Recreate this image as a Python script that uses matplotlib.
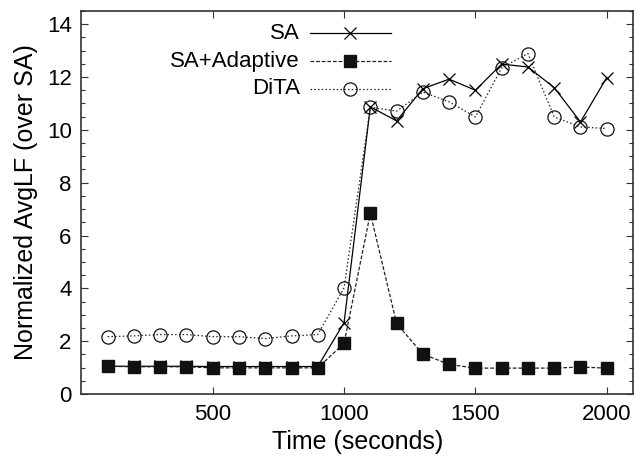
import matplotlib
matplotlib.use('Agg')
from matplotlib import pyplot as plt
from matplotlib.lines import Line2D
from matplotlib.ticker import MultipleLocator

plt.rcParams['font.family'] = ['Liberation Sans', 'DejaVu Sans']

time = [100, 200, 300, 400, 500, 600, 700, 800, 900, 1000,
        1100, 1200, 1300, 1400, 1500, 1600, 1700, 1800, 1900, 2000]
sa = [1.05, 1.05, 1.05, 1.05, 1.04, 1.04, 1.04, 1.04, 1.04, 2.7,
      10.87, 10.34, 11.56, 11.92, 11.5, 12.49, 12.38, 11.6, 10.3, 11.98]
sa_adaptive = [1.05, 1.03, 1.03, 1.03, 0.99, 0.99, 0.99, 0.99, 0.99, 1.92,
               6.84, 2.67, 1.51, 1.12, 0.98, 0.98, 0.98, 0.98, 1.02, 0.98]
dita = [2.17, 2.2, 2.25, 2.25, 2.17, 2.17, 2.1, 2.2, 2.25, 4.02,
        10.85, 10.71, 11.43, 11.06, 10.49, 12.35, 12.89, 10.49, 10.11, 10.05]
names = ['SA', 'SA+Adaptive', 'DiTA']

W, H = 640, 461
fs = 16
fig = plt.figure(figsize=(W / 100, H / 100), dpi=100)
ax = fig.add_axes([81.4 / W, 67 / H, (633 - 81.4) / W, (394 - 11) / H])

styles = [
    dict(color='black', lw=0.9, ls='-', marker='x', ms=9, mew=0.9),
    dict(color='#222222', lw=0.9, ls=(0, (3, 1.5)), marker='s', ms=9,
         mfc='#111111', mec='#111111'),
    dict(color='#222222', lw=0.9, ls=(0, (1.2, 1.8)), marker='o', ms=9.5,
         mfc='none', mec='#111111', mew=0.9),
]
for ys, st in zip([sa, sa_adaptive, dita], styles):
    ax.plot(time, ys, **st)

ax.set_xlim(0, 2100)
ax.set_ylim(0, 14.5)
ax.set_xticks([500, 1000, 1500, 2000])
ax.yaxis.set_major_locator(MultipleLocator(2))
ax.yaxis.set_minor_locator(MultipleLocator(0.5))
ax.tick_params(direction='in', top=True, right=True, which='both',
               labelsize=fs, width=0.8, colors='#333333', labelcolor='black')
ax.tick_params(which='major', length=5, pad=7)
ax.tick_params(which='minor', length=3)
for s in ax.spines.values():
    s.set_linewidth(1.2)
    s.set_color('#333333')

ax.set_xlabel('Time (seconds)', fontsize=18, labelpad=4)
ax.set_ylabel('Normalized AvgLF (over SA)', fontsize=18, labelpad=6)

# key, gnuplot style: right-aligned text then line sample
rows = [33, 61, 89]
for name, st, r in zip(names, styles, rows):
    yf = 1 - r / H
    fig.text(300 / W, yf, name, fontsize=fs, ha='right', va='center')
    line_st = {k: v for k, v in st.items() if not k.startswith('m')}
    mark_st = {k: v for k, v in st.items() if k.startswith('m')}
    fig.add_artist(Line2D([310 / W, 391 / W], [yf, yf], transform=fig.transFigure,
                          **line_st))
    fig.add_artist(Line2D([350 / W], [yf], transform=fig.transFigure,
                          ls='none', color=st['color'], **mark_st))

fig.savefig('out.png', dpi=100)
